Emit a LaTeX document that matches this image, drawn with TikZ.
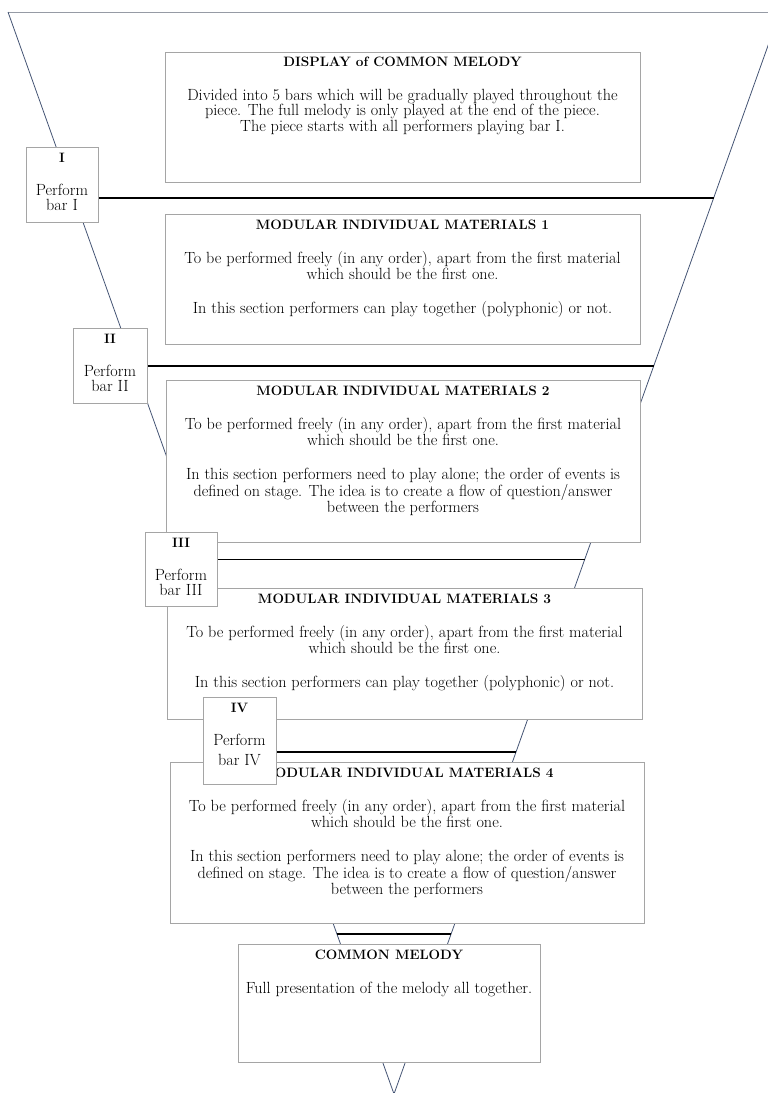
\documentclass[tikz,border=0pt]{standalone}
\usetikzlibrary{calc}

\definecolor{funnelblue}{RGB}{68,84,116}
\definecolor{funneltop}{RGB}{150,155,165}
\definecolor{boxgrey}{RGB}{165,165,165}

\newcommand\paneltitle[1]{{\fontsize{13.6}{14.3}\selectfont\bfseries #1}}

\tikzset{
  panel/.style={draw=boxgrey, line width=0.9pt, fill=white, anchor=north west,
    inner sep=0pt, outer sep=0pt},
  paneltext/.style={anchor=north, align=center, inner sep=0pt,
    font=\fontsize{16.2}{14.3}\selectfont},
  divider/.style={line width=1.8pt, black},
  funnelside/.style={draw=funnelblue, line width=0.8pt},
  funnelrim/.style={draw=funneltop, line width=0.8pt},
}

\begin{document}
\begin{tikzpicture}[x=1pt, y=-1pt]
  \useasboundingbox (0,0) rectangle (768,1093);
  \clip (0,0) rectangle (768,1093);

  % funnel outline
  \coordinate (tl) at (8,12);
  \coordinate (tr) at (780,12);
  \coordinate (apex) at (394,1094);
  \draw[funnelrim] (tl) -- (tr);
  \draw[funnelside] (tl) -- (apex) -- (tr);

  % section dividers across the funnel
  \foreach \t [count=\i] in {0.17206,0.32747,0.50601,0.68363,0.85199} {
    \coordinate (l\i) at ($(tl)!\t!(apex)$);
    \coordinate (r\i) at ($(tr)!\t!(apex)$);
    \draw[divider] (l\i) -- (r\i);
  }

  % main panels
  \node[panel, minimum width=475pt, minimum height=130pt] (disp) at (165,52) {};
  \node[paneltext] at ([yshift=-5pt]disp.north) {%
    \paneltitle{DISPLAY of COMMON MELODY}\\[19pt]
    Divided into 5 bars which will be gradually played throughout the\\
    piece. The full melody is only played at the end of the piece.\\
    The piece starts with all performers playing bar I.};

  \node[panel, minimum width=475pt, minimum height=130pt] (mod1) at (165,214) {};
  \node[paneltext] at ([yshift=-6pt]mod1.north) {%
    \paneltitle{MODULAR INDIVIDUAL MATERIALS 1}\\[19pt]
    To be performed freely (in any order), apart from the first material\\
    which should be the first one.\\[20pt]
    In this section performers can play together (polyphonic) or not.};

  \node[panel, minimum width=474pt, minimum height=162pt] (mod2) at (166,380) {};
  \node[paneltext] at ([yshift=-6pt]mod2.north) {%
    \paneltitle{MODULAR INDIVIDUAL MATERIALS 2}\\[19pt]
    To be performed freely (in any order), apart from the first material\\
    which should be the first one.\\[20pt]
    In this section performers need to play alone; the order of events is\\
    defined on stage. The idea is to create a flow of question/answer\\
    between the performers};

  \node[panel, minimum width=475pt, minimum height=131pt] (mod3) at (167,588) {};
  \node[paneltext] at ([yshift=-6pt]mod3.north) {%
    \paneltitle{MODULAR INDIVIDUAL MATERIALS 3}\\[19pt]
    To be performed freely (in any order), apart from the first material\\
    which should be the first one.\\[20pt]
    In this section performers can play together (polyphonic) or not.};

  \node[panel, minimum width=474pt, minimum height=161pt] (mod4) at (170,762) {};
  \node[paneltext] at ([yshift=-6pt]mod4.north) {%
    \paneltitle{MODULAR INDIVIDUAL MATERIALS 4}\\[19pt]
    To be performed freely (in any order), apart from the first material\\
    which should be the first one.\\[20pt]
    In this section performers need to play alone; the order of events is\\
    defined on stage. The idea is to create a flow of question/answer\\
    between the performers};

  \node[panel, minimum width=302pt, minimum height=118pt] (common) at (238,944) {};
  \node[paneltext] at ([yshift=-6pt]common.north) {%
    \paneltitle{COMMON MELODY}\\[19pt]
    Full presentation of the melody all together.};

  % bar tags on the left rim
  \node[panel, minimum width=72pt, minimum height=75pt] (barI) at (26,147) {};
  \node[paneltext] at ([yshift=-6pt]barI.north) {\paneltitle{I}\\[19pt] Perform\\ bar I};

  \node[panel, minimum width=74pt, minimum height=75pt] (barII) at (73,328) {};
  \node[paneltext] at ([yshift=-6pt]barII.north) {\paneltitle{II}\\[19pt] Perform\\ bar II};

  \node[panel, minimum width=72pt, minimum height=74pt] (barIII) at (145,532) {};
  \node[paneltext] at ([yshift=-6pt]barIII.north) {\paneltitle{III}\\[19pt] Perform\\ bar III};

  \node[panel, minimum width=73pt, minimum height=87pt] (barIV) at (203,697) {};
  \node[paneltext] at ([yshift=-6pt]barIV.north) {\paneltitle{IV}\\[19pt] Perform\\[5pt] bar IV};
\end{tikzpicture}
\end{document}
